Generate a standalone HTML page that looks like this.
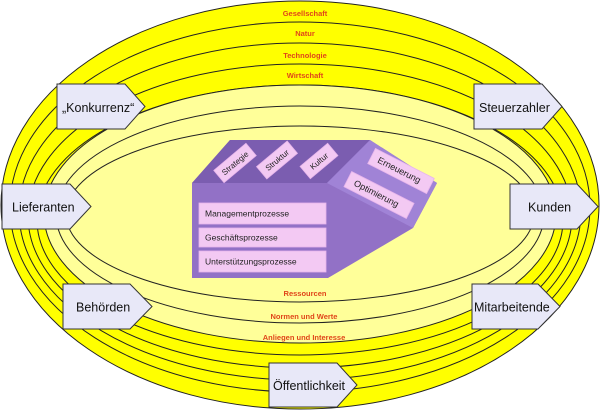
<!DOCTYPE html>
<html>
<head>
<meta charset="utf-8">
<style>
  html,body{margin:0;padding:0;background:#ffffff;}
  svg{display:block;}
  .lbl{font-family:"Liberation Sans",Arial,sans-serif;font-weight:bold;font-size:7.5px;fill:#E0461A;text-anchor:middle;}
  .box{font-family:"Liberation Sans",Arial,sans-serif;font-size:12.5px;fill:#111;}
  .pk{font-family:"Liberation Sans",Arial,sans-serif;fill:#222;}
</style>
</head>
<body>
<svg width="600" height="411" viewBox="0 0 600 411" xmlns="http://www.w3.org/2000/svg">
  <!-- bright outer rings -->
  <ellipse cx="300" cy="205" rx="299" ry="204" fill="#FFFF00" stroke="#222" stroke-width="1"/>
  <ellipse cx="300" cy="207" rx="290" ry="185" fill="none" stroke="#222" stroke-width="1"/>
  <ellipse cx="300" cy="211.5" rx="281" ry="168.5" fill="none" stroke="#222" stroke-width="1"/>
  <ellipse cx="300" cy="216" rx="272" ry="152" fill="none" stroke="#222" stroke-width="1"/>
  <ellipse cx="300" cy="220" rx="263" ry="135" fill="none" stroke="#222" stroke-width="1"/>
  <!-- light inner rings -->
  <ellipse cx="300" cy="214" rx="256" ry="129" fill="#FFFF99" stroke="#222" stroke-width="1"/>
  <ellipse cx="300" cy="214.5" rx="244" ry="108.5" fill="none" stroke="#222" stroke-width="1"/>
  <ellipse cx="300" cy="214" rx="234" ry="88" fill="none" stroke="#222" stroke-width="1"/>

  <!-- ring labels -->
  <text class="lbl" x="305" y="16">Gesellschaft</text>
  <text class="lbl" x="305" y="36">Natur</text>
  <text class="lbl" x="305" y="58">Technologie</text>
  <text class="lbl" x="305" y="78">Wirtschaft</text>
  <text class="lbl" x="305" y="296">Ressourcen</text>
  <text class="lbl" x="304" y="319">Normen und Werte</text>
  <text class="lbl" x="304" y="340">Anliegen und Interesse</text>

  <!-- purple block -->
  <polygon points="192,183 230,140 370,140 437,183 413,228 328,278 192,278" fill="#9271C6"/>
  <polygon points="192,183 230,140 370,140 327,183" fill="#7B5DB0"/>
  <polygon points="327,183 370,140 437,183 413,228" fill="#A083D6"/>

  <!-- top face labels -->
  <g transform="translate(235,163) rotate(-40)">
    <rect x="-21" y="-8" width="42" height="16" fill="#F3C9F3" stroke="#E7B5EC" stroke-width="0.8"/>
    <text class="pk" x="0" y="3" font-size="8" text-anchor="middle">Strategie</text>
  </g>
  <g transform="translate(277,160) rotate(-40)">
    <rect x="-20" y="-8" width="40" height="16" fill="#F3C9F3" stroke="#E7B5EC" stroke-width="0.8"/>
    <text class="pk" x="0" y="3" font-size="8" text-anchor="middle">Struktur</text>
  </g>
  <g transform="translate(319,161) rotate(-40)">
    <rect x="-18" y="-8" width="36" height="16" fill="#F3C9F3" stroke="#E7B5EC" stroke-width="0.8"/>
    <text class="pk" x="0" y="3" font-size="8" text-anchor="middle">Kultur</text>
  </g>

  <!-- right face labels -->
  <g transform="translate(401,171) rotate(27)">
    <rect x="-33" y="-8.5" width="66" height="17" fill="#F3C9F3" stroke="#E7B5EC" stroke-width="0.8"/>
    <text class="pk" x="-2" y="3" font-size="9" text-anchor="middle">Erneuerung</text>
  </g>
  <g transform="translate(379,195) rotate(27)">
    <rect x="-35" y="-8.5" width="70" height="17" fill="#F3C9F3" stroke="#E7B5EC" stroke-width="0.8"/>
    <text class="pk" x="-3" y="3" font-size="9" text-anchor="middle">Optimierung</text>
  </g>

  <!-- front face labels -->
  <rect x="199" y="203" width="127" height="21" fill="#F3C9F3" stroke="#E7B5EC" stroke-width="0.8"/>
  <text class="pk" x="205" y="216.5" font-size="8.5">Managementprozesse</text>
  <rect x="199" y="228" width="127" height="19" fill="#F3C9F3" stroke="#E7B5EC" stroke-width="0.8"/>
  <text class="pk" x="205" y="240.5" font-size="8.5">Geschäftsprozesse</text>
  <rect x="199" y="251" width="127" height="21" fill="#F3C9F3" stroke="#E7B5EC" stroke-width="0.8"/>
  <text class="pk" x="205" y="264.5" font-size="8.5">Unterstützungsprozesse</text>

  <!-- stakeholder arrows -->
  <g fill="#E8E8F8" stroke="#333" stroke-width="1">
    <polygon points="57,84 125,84 145,106.5 125,129 57,129"/>
    <polygon points="2,184 70,184 91,206.5 70,229 2,229"/>
    <polygon points="63,284 130,284 152,306.5 130,329 63,329"/>
    <polygon points="474,84 542,84 562,106.5 542,129 474,129"/>
    <polygon points="510,184 577,184 598,206.5 577,229 510,229"/>
    <polygon points="472,284 538,284 560,306.5 538,329 472,329"/>
    <polygon points="269,363 337,363 357,385 337,407 269,407"/>
  </g>
  <text class="box" x="62" y="112">„Konkurrenz“</text>
  <text class="box" x="12" y="211.5">Lieferanten</text>
  <text class="box" x="76" y="311.5">Behörden</text>
  <text class="box" x="479" y="112">Steuerzahler</text>
  <text class="box" x="528" y="211.5">Kunden</text>
  <text class="box" x="474" y="311.5">Mitarbeitende</text>
  <text class="box" x="273" y="390">Öffentlichkeit</text>
</svg>
</body>
</html>
